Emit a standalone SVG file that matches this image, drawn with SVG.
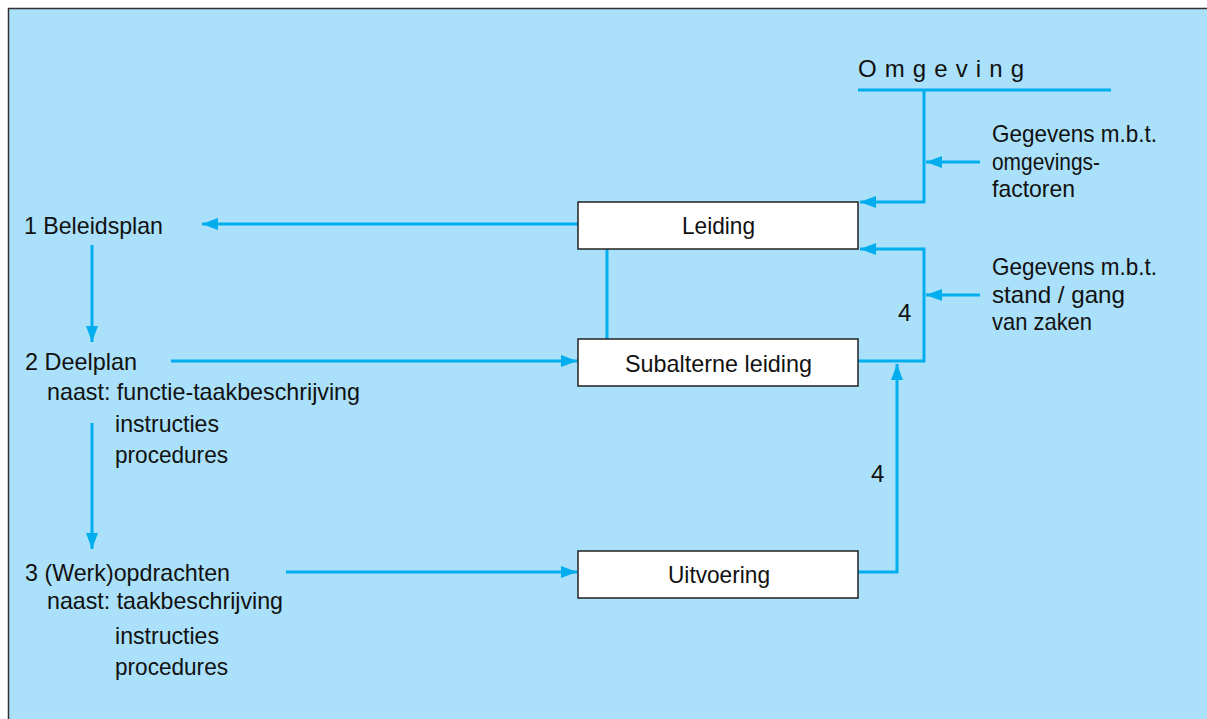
<svg xmlns="http://www.w3.org/2000/svg" width="1207" height="719" viewBox="0 0 1207 719">
<defs>
<style>
text{font-family:"Liberation Sans",Arial,sans-serif;font-size:24px;fill:#111;}
.ln{stroke:#00aeef;stroke-width:3;fill:none;}
.box{fill:#fff;stroke:#222;stroke-width:1.5;}
.c{text-anchor:middle;}
</style>
<marker id="ah" viewBox="0 0 16 12" refX="16" refY="6" markerWidth="16" markerHeight="12" markerUnits="userSpaceOnUse" orient="auto">
<path d="M0,0 L16,6 L0,12 Z" fill="#00aeef"/>
</marker>
</defs>
<rect x="8.5" y="8.5" width="1210" height="720" fill="#aae0f9" stroke="#333" stroke-width="1.5"/>
<g id="connectors">
<line class="ln" x1="858" y1="90" x2="1111" y2="90"/>
<polyline class="ln" points="924,90 924,202 860,202" marker-end="url(#ah)"/>
<line class="ln" x1="980" y1="162" x2="926" y2="162" marker-end="url(#ah)"/>
<polyline class="ln" points="858,361 924,361 924,249 860,249" marker-end="url(#ah)"/>
<line class="ln" x1="980" y1="295" x2="926" y2="295" marker-end="url(#ah)"/>
<polyline class="ln" points="858,572 897,572 897,364" marker-end="url(#ah)"/>
<line class="ln" x1="578" y1="224" x2="202" y2="224" marker-end="url(#ah)"/>
<line class="ln" x1="607" y1="249" x2="607" y2="339"/>
<line class="ln" x1="92" y1="245" x2="92" y2="342" marker-end="url(#ah)"/>
<line class="ln" x1="171" y1="361" x2="577" y2="361" marker-end="url(#ah)"/>
<line class="ln" x1="92" y1="423" x2="92" y2="549" marker-end="url(#ah)"/>
<line class="ln" x1="286" y1="572" x2="577" y2="572" marker-end="url(#ah)"/>
<text x="898" y="321">4</text>
<text x="871" y="482">4</text>
</g>
<g id="omgeving">
<text x="858" y="77" font-size="29" textLength="166" lengthAdjust="spacing">Omgeving</text>
</g>
<g id="leiding">
<rect class="box" x="578" y="202" width="280" height="47"/>
<text x="718.5" y="234" class="c" textLength="73" lengthAdjust="spacingAndGlyphs">Leiding</text>
</g>
<g id="subalterne">
<rect class="box" x="578" y="339" width="280" height="47"/>
<text x="718.5" y="372" class="c" textLength="187" lengthAdjust="spacingAndGlyphs">Subalterne leiding</text>
</g>
<g id="uitvoering">
<rect class="box" x="578" y="551" width="280" height="47"/>
<text x="719" y="583" class="c" textLength="102" lengthAdjust="spacingAndGlyphs">Uitvoering</text>
</g>
<g id="gegevens1">
<text x="992" y="142" textLength="165" lengthAdjust="spacingAndGlyphs">Gegevens m.b.t.</text>
<text x="992" y="170" textLength="108" lengthAdjust="spacingAndGlyphs">omgevings-</text>
<text x="992" y="197" textLength="83" lengthAdjust="spacingAndGlyphs">factoren</text>
</g>
<g id="gegevens2">
<text x="992" y="275" textLength="165" lengthAdjust="spacingAndGlyphs">Gegevens m.b.t.</text>
<text x="992" y="303" textLength="133" lengthAdjust="spacingAndGlyphs">stand / gang</text>
<text x="992" y="330" textLength="100" lengthAdjust="spacingAndGlyphs">van zaken</text>
</g>
<g id="beleidsplan">
<text x="24" y="234" textLength="139" lengthAdjust="spacingAndGlyphs">1 Beleidsplan</text>
</g>
<g id="deelplan">
<text x="25" y="370" textLength="112" lengthAdjust="spacingAndGlyphs">2 Deelplan</text>
<text x="47" y="400" textLength="313" lengthAdjust="spacingAndGlyphs">naast: functie-taakbeschrijving</text>
<text x="115" y="432" textLength="104" lengthAdjust="spacingAndGlyphs">instructies</text>
<text x="115" y="463" textLength="113" lengthAdjust="spacingAndGlyphs">procedures</text>
</g>
<g id="werkopdrachten">
<text x="25" y="581" textLength="205" lengthAdjust="spacingAndGlyphs">3 (Werk)opdrachten</text>
<text x="47" y="609" textLength="236" lengthAdjust="spacingAndGlyphs">naast: taakbeschrijving</text>
<text x="115" y="644" textLength="104" lengthAdjust="spacingAndGlyphs">instructies</text>
<text x="115" y="675" textLength="113" lengthAdjust="spacingAndGlyphs">procedures</text>
</g>
</svg>
